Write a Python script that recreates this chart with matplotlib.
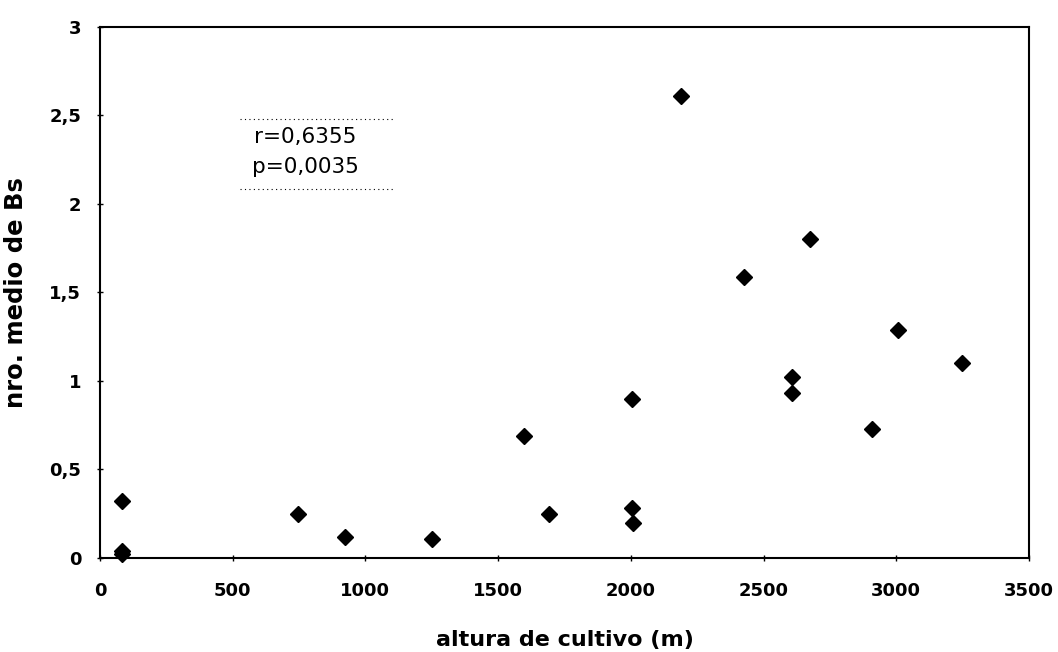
import matplotlib.pyplot as plt

# altura de cultivo (m) vs nro. medio de Bs
altura = [83, 83, 83, 746, 923, 1251, 1597, 1692, 2004, 2004, 2008,
          2189, 2426, 2675, 2607, 2607, 2908, 3008, 3249]
bs = [0.32, 0.04, 0.02, 0.25, 0.12, 0.11, 0.69, 0.25, 0.90, 0.28, 0.20,
      2.61, 1.59, 1.80, 1.02, 0.93, 0.73, 1.29, 1.10]

xticks = [0, 500, 1000, 1500, 2000, 2500, 3000, 3500]
yticks = [0, 0.5, 1, 1.5, 2, 2.5, 3]
ytick_labels = ['0', '0,5', '1', '1,5', '2', '2,5', '3']

plt.rcParams['font.family'] = ['DejaVu Sans']

fig = plt.figure(figsize=(10.58, 6.52), dpi=100)
ax = fig.add_axes([0.0945, 0.1442, 0.8781, 0.8144])

ax.plot(altura, bs, linestyle='none', marker='D', markersize=8.5,
        color='black', clip_on=False, zorder=3)

ax.set_xlim(0, 3500)
ax.set_ylim(0, 3)
ax.set_xticks(xticks)
ax.set_xticklabels([str(t) for t in xticks], fontweight='bold', fontsize=13)
ax.set_yticks(yticks)
ax.set_yticklabels(ytick_labels, fontweight='bold', fontsize=13)
ax.tick_params(direction='inout', length=5, width=1)
ax.tick_params(axis='x', pad=15)
ax.tick_params(axis='y', pad=11)

for s in ax.spines.values():
    s.set_linewidth(1.5)

ax.set_xlabel('altura de cultivo (m)', fontweight='bold', fontsize=16)
ax.set_ylabel('nro. medio de Bs', fontweight='bold', fontsize=17.5)
ax.xaxis.set_label_coords(0.5, -0.135)
ax.yaxis.set_label_coords(-0.078, 0.5)

# text box with dotted top and bottom edges
ax.plot([0.1507, 0.3175], [0.8267, 0.8267], transform=ax.transAxes,
        color='black', linestyle=(0, (1, 3)), linewidth=0.8)
ax.plot([0.1507, 0.3175], [0.695, 0.695], transform=ax.transAxes,
        color='black', linestyle=(0, (1, 3)), linewidth=0.8)
ax.text(0.2207, 0.793, 'r=0,6355', transform=ax.transAxes, ha='center',
        va='center', fontsize=15.5)
ax.text(0.2207, 0.736, 'p=0,0035', transform=ax.transAxes, ha='center',
        va='center', fontsize=15.5)

fig.savefig('out.png', dpi=100)
